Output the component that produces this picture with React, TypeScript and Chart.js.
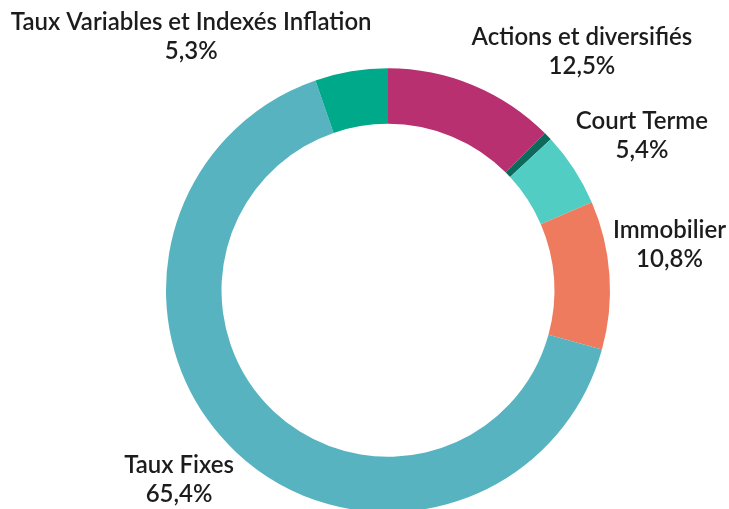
import React, { useEffect, useRef } from "react";
import { Chart, registerables } from "chart.js";

Chart.register(...registerables);

const categories = [
  "Actions et diversifiés",
  "",
  "Court Terme",
  "Immobilier",
  "Taux Fixes",
  "Taux Variables et Indexés Inflation",
];
const shares = [12.5, 0.6, 5.4, 10.8, 65.4, 5.3];
const sliceColors = ["#B8306F", "#0B6A5A", "#52CDC4", "#EF7B5E", "#58B3C0", "#00A98A"];

const FONT = "Lato, 'Open Sans', sans-serif";

const labelPlugin = {
  id: "outerLabels",
  afterDatasetsDraw(chart: any, _args: any, opts: any) {
    const ctx = chart.ctx;
    const meta = chart.getDatasetMeta(0);
    const offsets = opts.offsets || [];
    ctx.save();
    ctx.fillStyle = opts.color || "#1a1a1a";
    ctx.font = `${opts.weight || 400} ${opts.size || 21}px ${FONT}`;
    ctx.textAlign = "center";
    ctx.textBaseline = "middle";
    meta.data.forEach((arc: any, i: number) => {
      const name = chart.data.labels[i];
      if (!name) return;
      const p = arc.getProps(["x", "y", "startAngle", "endAngle", "outerRadius"], true);
      const mid = (p.startAngle + p.endAngle) / 2;
      const ax = p.x + Math.cos(mid) * p.outerRadius;
      const ay = p.y + Math.sin(mid) * p.outerRadius;
      const off = offsets[i] || [0, 0];
      const cx = ax + off[0];
      const cy = ay + off[1];
      const lh = opts.lineHeight || 29;
      const v = chart.data.datasets[0].data[i];
      const pct = v.toFixed(1).replace(".", ",") + "%";
      ctx.fillText(name, cx, cy - lh / 2);
      ctx.fillText(pct, cx, cy + lh / 2);
    });
    ctx.restore();
  },
};

export default function App() {
  const ref = useRef<HTMLCanvasElement>(null);
  useEffect(() => {
    if (!ref.current) return;
    const chart = new Chart(ref.current, {
      type: "doughnut",
      data: {
        labels: categories,
        datasets: [
          {
            data: shares,
            backgroundColor: sliceColors,
            borderWidth: 0,
          },
        ],
      },
      options: {
        animation: false,
        responsive: false,
        cutout: "75%",
        layout: { padding: { left: 166, right: 119, top: 68.3, bottom: 17.7 } },
        plugins: {
          legend: { display: false },
          tooltip: { enabled: false },
          outerLabels: {
            size: 24,
            weight: 600,
            lineHeight: 29,
            color: "#1c1c1c",
            offsets: [
              [109, -33],
              [0, 0],
              [68, -33],
              [60, -30],
              [-57, 28],
              [-160, -35],
            ],
          },
        } as any,
      },
      plugins: [labelPlugin],
    });
    return () => chart.destroy();
  }, []);
  return (
    <div
      style={{
        position: "fixed",
        left: 0,
        top: 0,
        width: 729,
        height: 509,
        overflow: "hidden",
        background: "#fff",
      }}
    >
      <canvas ref={ref} width={729} height={530} style={{ display: "block" }} />
    </div>
  );
}
